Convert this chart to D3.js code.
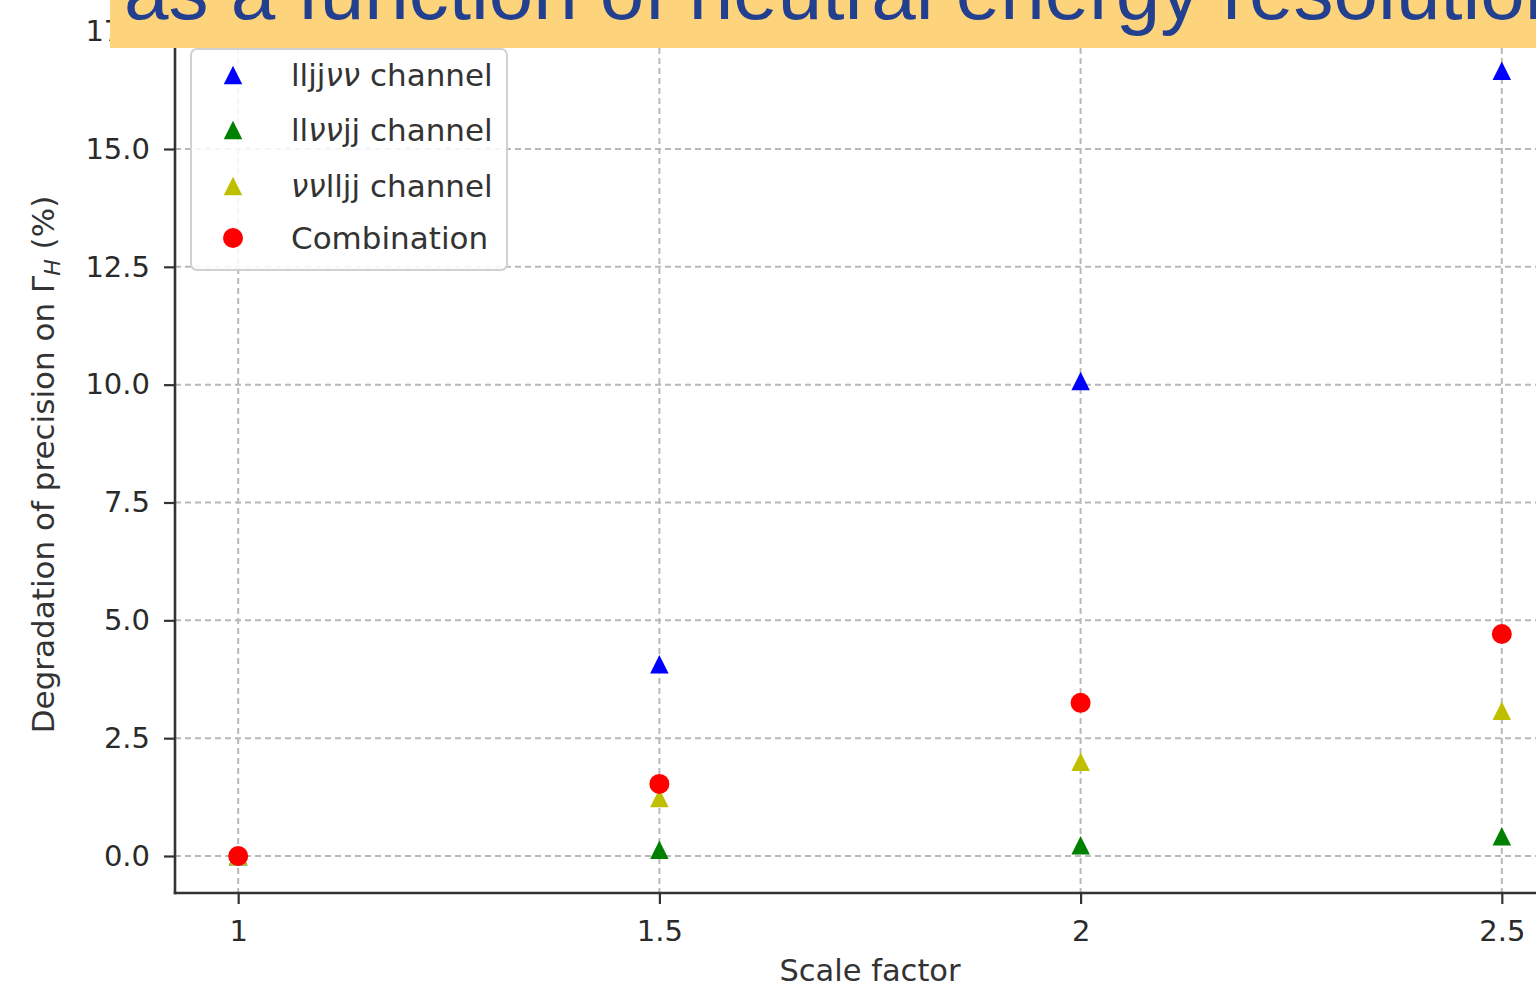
<!DOCTYPE html>
<html>
<head>
<meta charset="utf-8">
<script src="https://cdn.jsdelivr.net/npm/d3@7"></script>
<style>
  html, body { margin: 0; padding: 0; background: #fff; overflow: hidden; }
  svg { display: block; }
</style>
</head>
<body>
<svg id="chart" width="1536" height="985"></svg>
<script>
// ---- data ----
const scaleFactors = [1, 1.5, 2, 2.5];
const xTickLabels = ["1", "1.5", "2", "2.5"];
const yTicks = [0, 2.5, 5, 7.5, 10, 12.5, 15, 17.5];
const lljjvv = [0, 4.07, 10.08, 16.66];
const llvvjj = [0, 0.13, 0.23, 0.42];
const vvlljj = [0, 1.23, 2.0, 3.08];
const combination = [0, 1.53, 3.25, 4.71];
const seriesNames = ["lljjvv", "llvvjj", "vvlljj", "Combination"];
const bannerText = "as a function of neutral energy resolution";

// ---- layout ----
const W = 1536, H = 985;
const plot = { left: 175, right: 1565, top: 28, bottom: 893 };
const svg = d3.select("#chart");

const x = d3.scaleLinear().domain([0.925, 2.575]).range([plot.left, plot.right]);
const y = d3.scaleLinear().domain([-0.785, 17.567]).range([plot.bottom, plot.top]);

const series = [
  { name: seriesNames[0], values: lljjvv, color: "#0000ff", shape: "tri" },
  { name: seriesNames[1], values: llvvjj, color: "#008000", shape: "tri" },
  { name: seriesNames[2], values: vvlljj, color: "#bfbf00", shape: "tri" },
  { name: seriesNames[3], values: combination, color: "#ff0000", shape: "circle" }
];

const triSymbol = {
  draw(ctx, size) {
    const h = Math.sqrt(size) / 2;
    ctx.moveTo(0, -h);
    ctx.lineTo(h, h);
    ctx.lineTo(-h, h);
    ctx.closePath();
  }
};
const triPath = d3.symbol().type(triSymbol).size(18.5 * 18.5)();
const circPath = d3.symbol().type(d3.symbolCircle).size(Math.PI * 10 * 10)();

// ---- grid ----
const grid = svg.append("g");
grid.selectAll("line.gx").data(scaleFactors).join("line")
  .attr("x1", d => x(d)).attr("x2", d => x(d))
  .attr("y1", plot.top).attr("y2", plot.bottom)
  .attr("stroke", "#b8b8b8").attr("stroke-width", 2).attr("stroke-dasharray", "6,4");
grid.selectAll("line.gy").data(yTicks).join("line")
  .attr("x1", plot.left).attr("x2", plot.right)
  .attr("y1", d => y(d)).attr("y2", d => y(d))
  .attr("stroke", "#b8b8b8").attr("stroke-width", 2).attr("stroke-dasharray", "6,4");

// ---- axes ----
const tickFont = "DejaVu Sans, sans-serif";
const xAxis = d3.axisBottom(x).tickValues(scaleFactors)
  .tickFormat((d, i) => xTickLabels[i]).tickSize(11).tickSizeOuter(0).tickPadding(16);
const yAxis = d3.axisLeft(y).tickValues(yTicks)
  .tickFormat(d3.format(".1f")).tickSize(11).tickSizeOuter(0).tickPadding(14);

const gx = svg.append("g").attr("transform", `translate(0,${plot.bottom})`).call(xAxis);
const gy = svg.append("g").attr("transform", `translate(${plot.left},0)`).call(yAxis);
[gx, gy].forEach(g => {
  g.select(".domain").remove();
  g.selectAll(".tick line").attr("stroke", "#333").attr("stroke-width", 2.2);
  g.selectAll(".tick text").attr("fill", "#2a2a2a")
    .style("font-family", tickFont).style("font-size", "29px");
});

// spines (left & bottom)
svg.append("line").attr("x1", plot.left).attr("x2", plot.left)
  .attr("y1", plot.top).attr("y2", plot.bottom + 1.2)
  .attr("stroke", "#333").attr("stroke-width", 2.6);
svg.append("line").attr("x1", plot.left - 1.2).attr("x2", plot.right)
  .attr("y1", plot.bottom).attr("y2", plot.bottom)
  .attr("stroke", "#333").attr("stroke-width", 2.6);

// ---- points ----
series.forEach(s => {
  svg.append("g").selectAll("path").data(s.values).join("path")
    .attr("d", s.shape === "tri" ? triPath : circPath)
    .attr("transform", (d, i) => `translate(${x(scaleFactors[i])},${y(d)})`)
    .attr("fill", s.color);
});

// ---- axis labels ----
svg.append("text")
  .attr("x", (plot.left + plot.right) / 2).attr("y", 981)
  .attr("text-anchor", "middle")
  .attr("fill", "#333")
  .style("font-family", tickFont).style("font-size", "30.5px")
  .text("Scale factor");

const yl = svg.append("text")
  .attr("transform", `translate(54,${(plot.top + 8 + plot.bottom) / 2}) rotate(-90)`)
  .attr("text-anchor", "middle")
  .attr("fill", "#333")
  .style("font-family", tickFont).style("font-size", "31px");
yl.append("tspan").text("Degradation of precision on Γ");
yl.append("tspan").attr("font-style", "italic").attr("font-size", "22px").attr("dy", "6").text("H");
yl.append("tspan").attr("dy", "-6").text(" (%)");

// ---- legend ----
const lg = svg.append("g");
lg.append("rect").attr("x", 191).attr("y", 49).attr("width", 316).attr("height", 221)
  .attr("rx", 6).attr("fill", "#fff").attr("fill-opacity", 0.85)
  .attr("stroke", "#d0d0d0").attr("stroke-width", 2);
const rowsY = [75, 130, 186, 238];
const legendParts = [
  [["ll", false], ["jj", false], ["νν", true], [" channel", false]],
  [["ll", false], ["νν", true], ["jj channel", false]],
  [["νν", true], ["lljj channel", false]],
  [["Combination", false]]
];
series.forEach((s, i) => {
  lg.append("path").attr("d", s.shape === "tri" ? triPath : circPath)
    .attr("transform", `translate(233,${rowsY[i]})`).attr("fill", s.color);
  const t = lg.append("text").attr("x", 291).attr("y", rowsY[i]).attr("dy", "0.36em")
    .attr("fill", "#333").style("font-family", tickFont).style("font-size", "31px");
  legendParts[i].forEach(([txt, it]) => {
    t.append("tspan").attr("font-style", it ? "italic" : "normal").text(txt);
  });
});

// ---- banner (overlay from the slide) ----
svg.append("rect").attr("x", 110).attr("y", 0).attr("width", W - 110).attr("height", 48)
  .attr("fill", "#fdd37b");
svg.append("text").attr("x", 124).attr("y", 19)
  .attr("fill", "#233f8f")
  .style("font-family", "Liberation Sans, Arial, sans-serif").style("font-size", "80px")
  .text(bannerText);
</script>
</body>
</html>
